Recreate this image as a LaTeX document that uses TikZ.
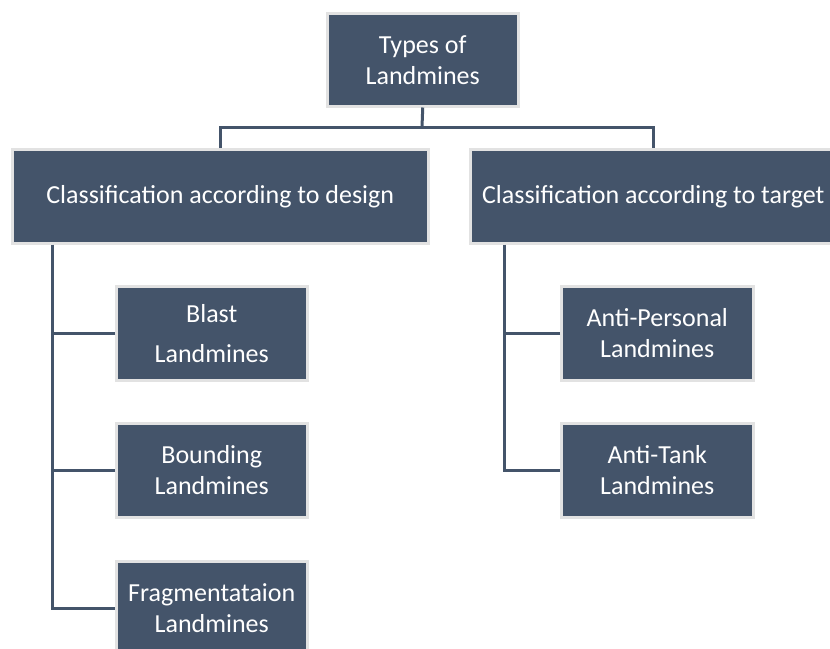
\documentclass[tikz,border=0pt]{standalone}
\usepackage{fontspec}
\setmainfont{Carlito}
\definecolor{boxfill}{HTML}{44546A}
\definecolor{boxedge}{HTML}{E2E2E2}
\definecolor{linecol}{HTML}{44546A}
\tikzset{
  box/.style={fill=boxfill, draw=boxedge, line width=2.5pt, text=white,
    anchor=north west, inner sep=0pt, align=center,
    font=\fontsize{26}{31}\selectfont},
  conn/.style={draw=linecol, line width=3pt}
}
\begin{document}
\begin{tikzpicture}[x=1pt,y=-1pt]
\useasboundingbox (0,0) rectangle (830,648);
\clip (0,0) rectangle (830,648);
\node[box, minimum width=191pt, minimum height=93pt] (top) at (326,12) {Types of\\Landmines};
\node[box, minimum width=416pt, minimum height=94pt] (design) at (11,148) {Classification according to design};
\node[box, minimum width=366pt, minimum height=94pt] (target) at (469,148) {Classification according to target};
\node[box, minimum width=191pt, minimum height=94pt] (blast) at (115,285) {Blast\\[9pt]Landmines};
\node[box, minimum width=191pt, minimum height=94pt] (bound) at (115,422) {Bounding\\Landmines};
\node[box, minimum width=191pt, minimum height=94pt] (frag) at (115,560) {Fragmentataion\\Landmines};
\node[box, minimum width=192pt, minimum height=94pt] (anp) at (560,285) {Anti-Personal\\Landmines};
\node[box, minimum width=192pt, minimum height=94pt] (ant) at (560,422) {Anti-Tank\\Landmines};
\coordinate (hub) at (422,127);
\coordinate (ltrunk) at (52,0);
\coordinate (rtrunk) at (504,0);
\draw[conn] (top.south) -- (hub);
\draw[conn] (design.north) |- (hub) -| (target.north);
\draw[conn] (design.south -| ltrunk) |- (frag.west);
\draw[conn] (blast.west) -- (blast.west -| ltrunk);
\draw[conn] (bound.west) -- (bound.west -| ltrunk);
\draw[conn] (target.south -| rtrunk) |- (ant.west);
\draw[conn] (anp.west) -- (anp.west -| rtrunk);
\end{tikzpicture}
\end{document}
